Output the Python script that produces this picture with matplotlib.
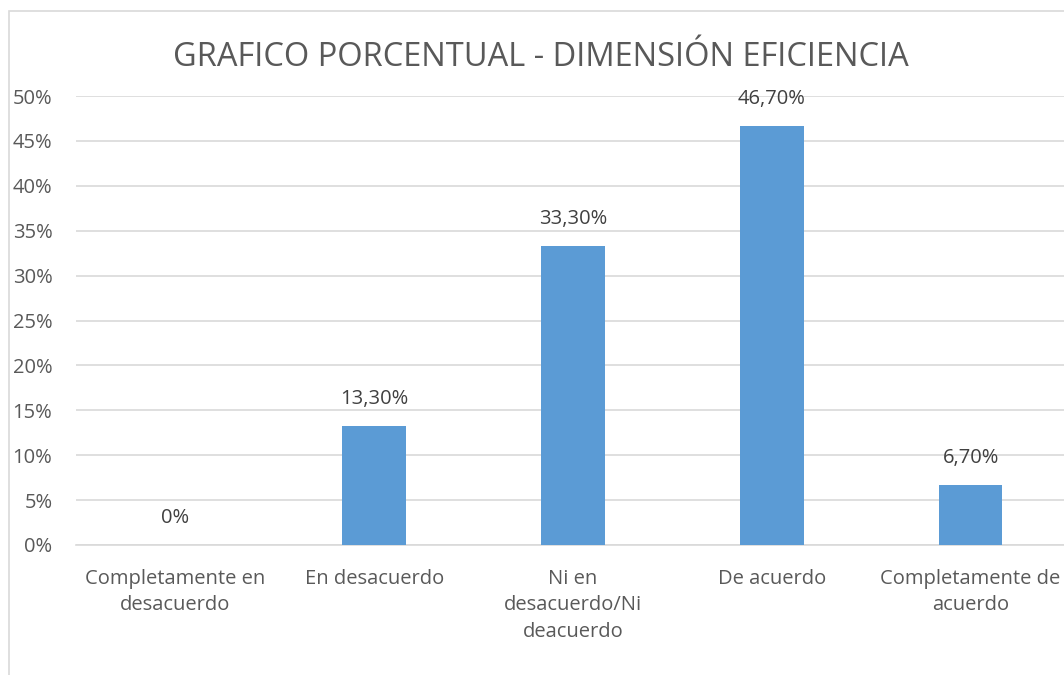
import matplotlib.pyplot as plt
from matplotlib.patches import Rectangle
from matplotlib.ticker import FuncFormatter

# datos del grafico
categorias = ["Completamente en\ndesacuerdo", "En desacuerdo",
              "Ni en\ndesacuerdo/Ni\ndeacuerdo", "De acuerdo",
              "Completamente de\nacuerdo"]
porcentajes = [0, 13.3, 33.3, 46.7, 6.7]
titulo = "GRAFICO PORCENTUAL - DIMENSIÓN EFICIENCIA"

plt.rcParams['font.family'] = ['Open Sans', 'DejaVu Sans']

fig = plt.figure(figsize=(10.64, 6.75), dpi=100)
W, H = 1064, 675

# borde del area del grafico (recortado a la derecha y abajo)
fig.patches.append(Rectangle((9 / W, -0.1), 1.2, 1.1 - 11 / H,
                             transform=fig.transFigure, fill=False,
                             edgecolor='#D9D9D9', linewidth=1.2))

ax = fig.add_axes([76 / W, 1 - 545 / H, 994 / W, 449 / H])
x = range(len(categorias))
ax.bar(x, porcentajes, width=0.32, color='#5B9BD5', zorder=3)

for xi, v in zip(x, porcentajes):
    txt = "0%" if v == 0 else f"{v:.2f}".replace('.', ',') + "%"
    ax.annotate(txt, (xi, v), xytext=(0, 12), textcoords='offset points',
                ha='center', va='bottom', fontsize=14.5, color='#404040')

ax.set_xlim(-0.5, len(categorias) - 0.5)
ax.set_ylim(0, 50)
ax.set_yticks(range(0, 51, 5))
ax.yaxis.set_major_formatter(FuncFormatter(lambda v, p: f"{v:.0f}%"))
ax.grid(axis='y', color='#D9D9D9', linewidth=1.2, zorder=0)
for s in ['top', 'right', 'left']:
    ax.spines[s].set_visible(False)
ax.spines['bottom'].set_color('#D9D9D9')
ax.spines['bottom'].set_linewidth(1.2)
ax.set_xticks(list(x))
ax.set_xticklabels(categorias, fontsize=14.5, color='#595959', linespacing=1.45)
ax.tick_params(axis='y', labelsize=14.5, labelcolor='#595959', length=0, pad=17)
ax.tick_params(axis='x', length=0, pad=17)

fig.text(541 / W, 1 - 57 / H, titulo, ha='center', va='center',
         fontsize=23.5, color='#595959')

fig.savefig("out.png", dpi=100)
